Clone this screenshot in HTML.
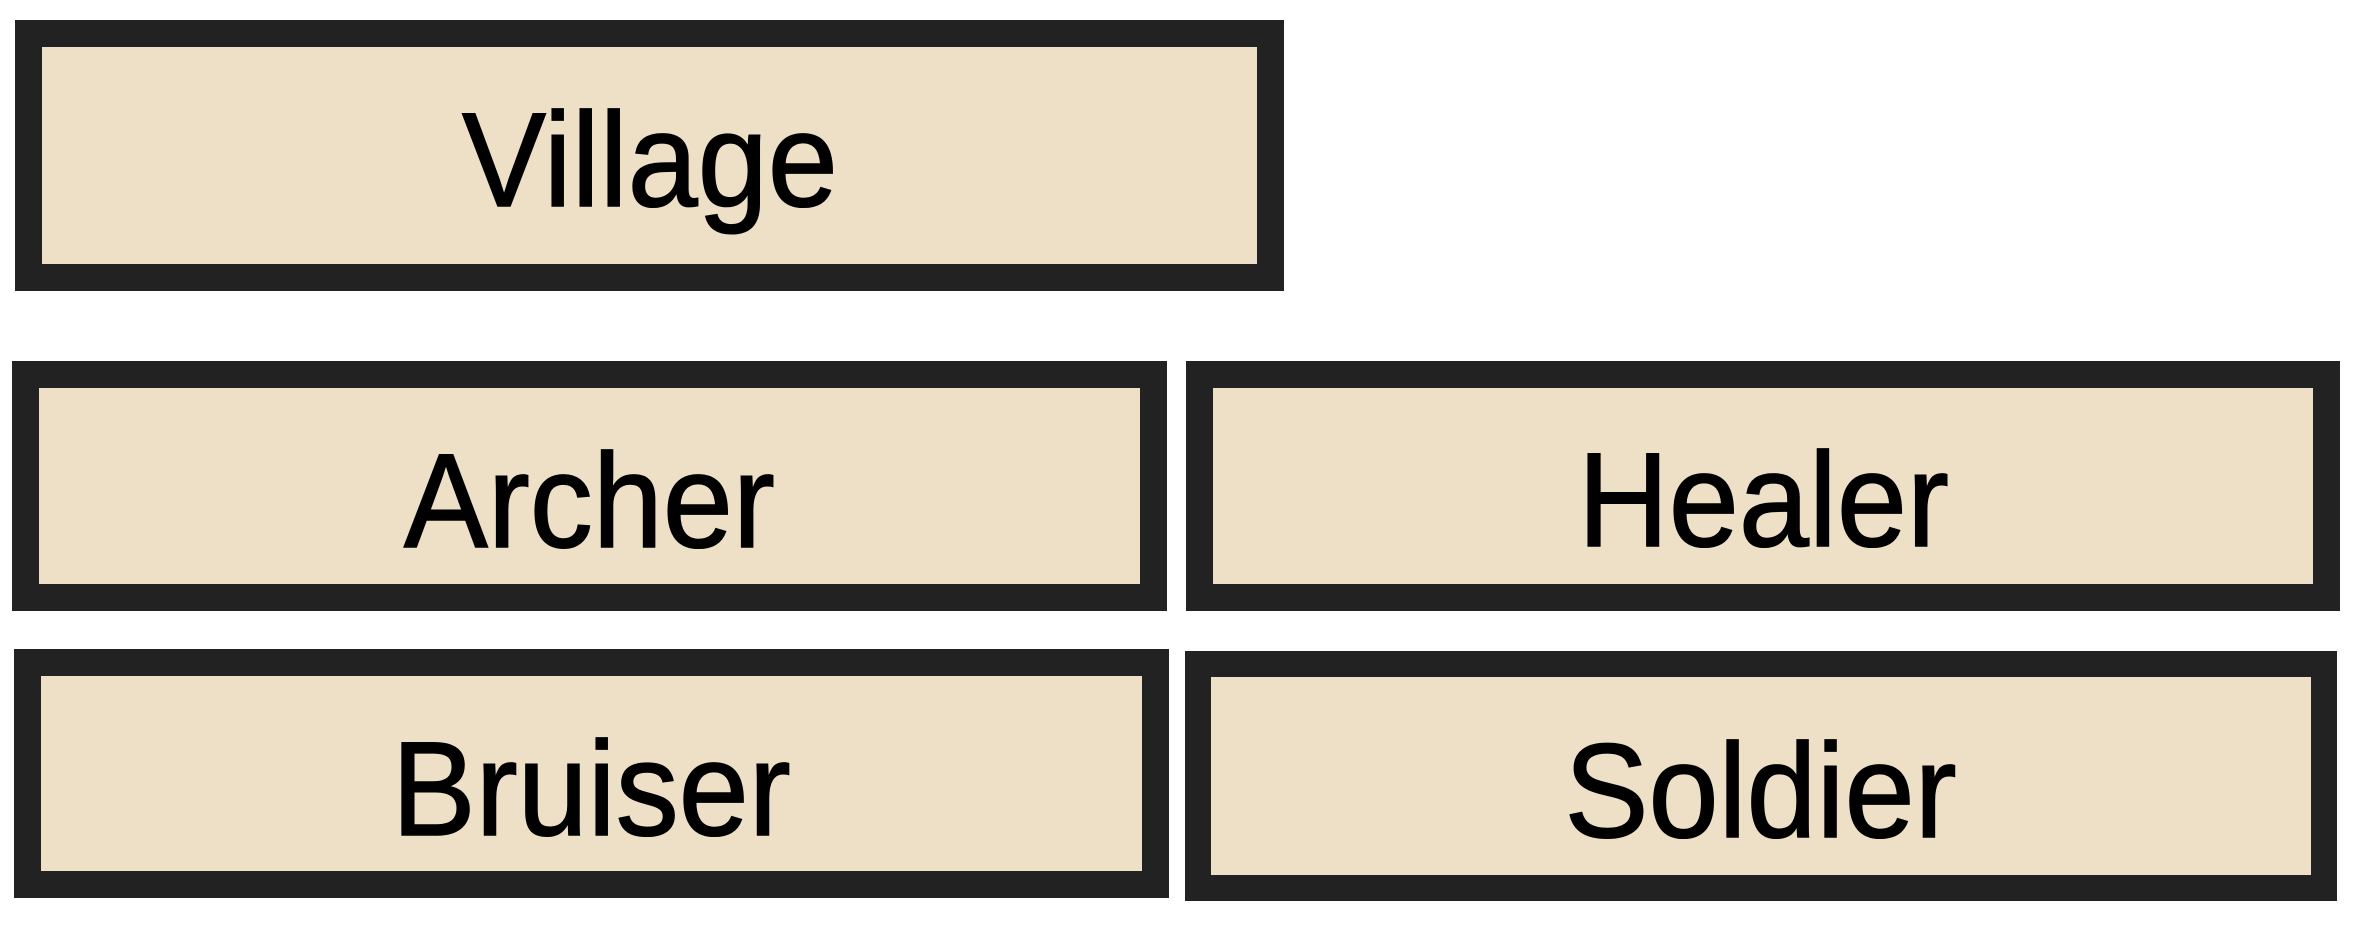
<!DOCTYPE html>
<html><head><meta charset="utf-8"><style>
html,body{margin:0;padding:0;background:#fff;}
body{width:2358px;height:942px;position:relative;overflow:hidden;}
.b{position:absolute;background:#222;box-sizing:border-box;}
.i{position:absolute;background:#ede0c7;}
.t{position:absolute;left:0;right:0;text-align:center;font-family:"Liberation Sans",sans-serif;font-size:134px;line-height:134px;color:#000;white-space:nowrap;}
.t span{display:inline-block;transform:scaleX(0.94);-webkit-text-stroke:1.5px #000;}
</style></head><body>
<div class="b" style="left:15px;top:20px;width:1269px;height:271px;"><div class="i" style="left:27px;top:27px;right:27px;bottom:27px;"></div><div class="t" style="top:74px;"><span>Village</span></div></div>
<div class="b" style="left:12px;top:361px;width:1155px;height:250px;"><div class="i" style="left:27px;top:27px;right:27px;bottom:27px;"></div><div class="t" style="top:74px;"><span>Archer</span></div></div>
<div class="b" style="left:1186px;top:361px;width:1154px;height:250px;"><div class="i" style="left:27px;top:27px;right:27px;bottom:27px;"></div><div class="t" style="top:73px;"><span>Healer</span></div></div>
<div class="b" style="left:14px;top:649px;width:1155px;height:249px;"><div class="i" style="left:27px;top:27px;right:27px;bottom:27px;"></div><div class="t" style="top:74px;"><span>Bruiser</span></div></div>
<div class="b" style="left:1185px;top:651px;width:1152px;height:250px;"><div class="i" style="left:26px;top:26px;right:26px;bottom:26px;"></div><div class="t" style="top:74px;"><span>Soldier</span></div></div>
</body></html>
